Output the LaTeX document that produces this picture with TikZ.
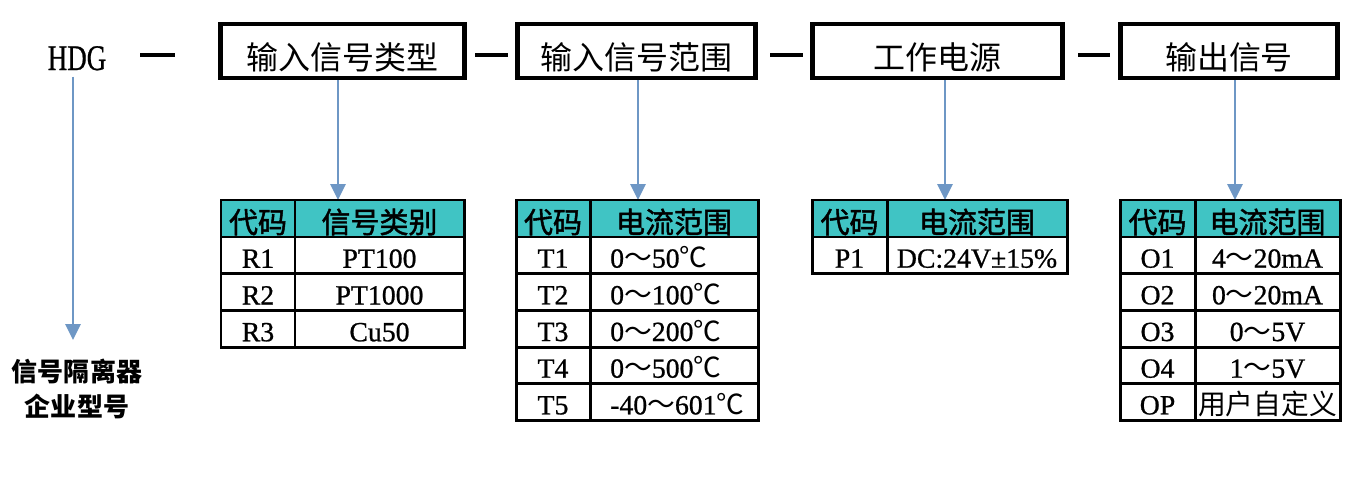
\documentclass[tikz,border=0pt]{standalone}
\usepackage{fontspec}
\usepackage{graphicx}
\setmainfont{Liberation Serif}
\newfontfamily\latb[FakeBold=0.8]{Liberation Serif}
\newfontfamily\cjk{Noto Sans CJK SC}
\newfontfamily\cjkb[FakeBold=1.6]{Noto Sans CJK SC}
\usetikzlibrary{arrows.meta}
\definecolor{arrblue}{RGB}{110,151,197}
\definecolor{hdteal}{RGB}{64,196,196}
\newcommand{\tld}{{\cjk ～}}
\newcommand{\cels}{{\cjk ℃}}
\tikzset{
  hbox/.style={draw, line width=2.6pt, inner ysep=0pt, minimum height=1.08cm,
    text height=0.73cm, text depth=0pt, font=\cjk\fontsize{18.2}{20}\selectfont},
  joiner/.style={line width=2.3pt},
  arr/.style={arrblue, line width=1.6pt, -{Triangle[width=0.3cm,length=0.32cm]}},
  tbl/.style={line width=1.7pt},
  thd/.style={font=\cjkb\fontsize{16.5}{18}\selectfont, anchor=base},
  tcell/.style={font=\latb\fontsize{15.8}{17}\selectfont, anchor=base}
}
\begin{document}
\begin{tikzpicture}[x=0.02cm,y=-0.02cm]
\useasboundingbox (0,0) rectangle (1351,477);

\node[font=\latb\fontsize{20.5}{22}\selectfont, anchor=base] (hdg) at (77,70) {\scalebox{0.75}[1]{HDG}};
\node[hbox, minimum width=4.88cm] (box1) at (342.5,51) {输入信号类型};
\node[hbox, minimum width=4.76cm] (box2) at (636.5,51) {输入信号范围};
\node[hbox, minimum width=5.0cm] (box3) at (937.5,51) {工作电源};
\node[hbox, minimum width=4.34cm] (box4) at (1229,51) {输出信号};
\draw[joiner] (140,55) -- (175,55);
\draw[joiner] (475,55) -- (508,55);
\draw[joiner] (770,55) -- (803,55);
\draw[joiner] (1078,55) -- (1110,55);

\node[align=center, font=\cjk\bfseries\fontsize{14.8}{19.9}\selectfont] (lbl) at (77,389) {信号隔离器\\企业型号};
\coordinate (hdgtip) at (73,340);
\draw[arr] (hdg.south -| hdgtip) -- (hdgtip);

% input type
\coordinate (t1top) at (338,200);
\draw[arr] (box1.south -| t1top) -- (t1top);
\fill[hdteal] (221,200) rectangle (464,237);
\draw[tbl] (221,200) rectangle (464,347);
\foreach \y in {237,273.75,310.5} \draw[tbl] (221,\y) -- (464,\y);
\draw[tbl] (295,200) -- (295,347);
\node[thd] (t1h1) at (258,233) {代码};
\node[thd] (t1h2) at (379.5,233) {信号类别};
\foreach \c/\v [count=\i] in {R1/PT100, R2/PT1000, R3/Cu50} {
  \node[tcell] (t1c\i) at (258,231+36.75*\i) {\c};
  \node[tcell] (t1v\i) at (379.5,231+36.75*\i) {\v};
}

% input range
\coordinate (t2top) at (638,200);
\draw[arr] (box2.south -| t2top) -- (t2top);
\fill[hdteal] (516,200) rectangle (758,237);
\draw[tbl] (516,200) rectangle (758,420);
\foreach \y in {237,273.67,310.33,347,383.67} \draw[tbl] (516,\y) -- (758,\y);
\draw[tbl] (590,200) -- (590,420);
\node[thd] (t2h1) at (553,233) {代码};
\node[thd] (t2h2) at (674,233) {电流范围};
\foreach \c/\v [count=\i] in {T1/0\tld50\cels, T2/0\tld100\cels, T3/0\tld200\cels, T4/0\tld500\cels, T5/-40\tld601\cels} {
  \node[tcell] (t2c\i) at (553,231+36.67*\i) {\c};
  \node[tcell, anchor=base west] (t2v\i) at (604,231+36.67*\i) {\v};
}

% power supply
\coordinate (t3top) at (945,200);
\draw[arr] (box3.south -| t3top) -- (t3top);
\fill[hdteal] (812,200) rectangle (1067,237);
\draw[tbl] (812,200) rectangle (1067,273.67);
\draw[tbl] (812,237) -- (1067,237);
\draw[tbl] (887,200) -- (887,273.67);
\node[thd] (t3h1) at (849.5,233) {代码};
\node[thd] (t3h2) at (977,233) {电流范围};
\node[tcell] (t3c1) at (849.5,267.67) {P1};
\node[tcell] (t3v1) at (977,267.67) {DC:24V±15\%};

% output signal
\coordinate (t4top) at (1235,200);
\draw[arr] (box4.south -| t4top) -- (t4top);
\fill[hdteal] (1120,200) rectangle (1340,237);
\draw[tbl] (1120,200) rectangle (1340,420);
\foreach \y in {237,273.67,310.33,347,383.67} \draw[tbl] (1120,\y) -- (1340,\y);
\draw[tbl] (1195,200) -- (1195,420);
\node[thd] (t4h1) at (1157.5,233) {代码};
\node[thd] (t4h2) at (1267.5,233) {电流范围};
\foreach \c/\v [count=\i] in {O1/4\tld20mA, O2/0\tld20mA, O3/0\tld5V, O4/1\tld5V, OP/{\cjk 用户自定义}} {
  \node[tcell] (t4c\i) at (1157.5,231+36.67*\i) {\c};
  \node[tcell] (t4v\i) at (1267.5,231+36.67*\i) {\v};
}
\end{tikzpicture}
\end{document}
